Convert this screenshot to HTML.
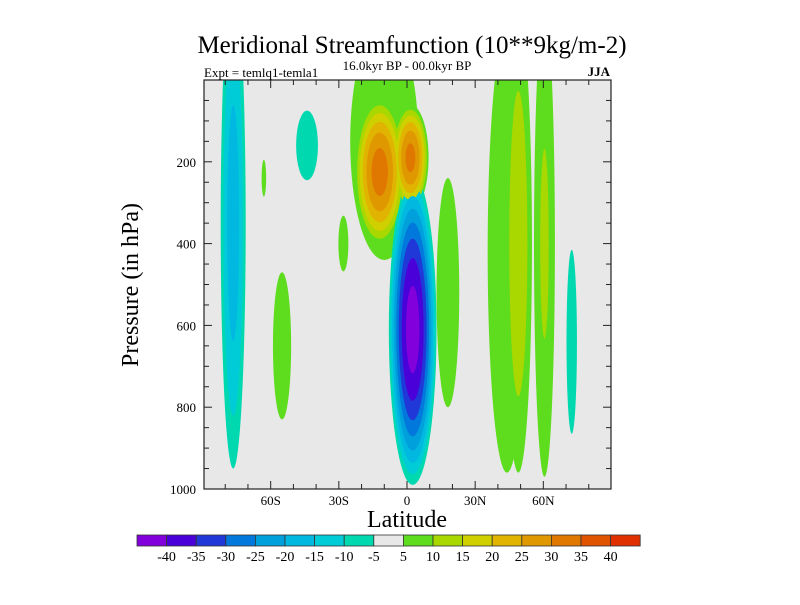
<!DOCTYPE html>
<html><head><meta charset="utf-8"><style>
body{margin:0;background:#fff;width:800px;height:600px;overflow:hidden}
svg text{font-family:"Liberation Serif",serif;fill:#000}
</style></head><body>
<svg width="800" height="600" viewBox="0 0 800 600" xmlns="http://www.w3.org/2000/svg">
<defs><clipPath id="pc"><rect x="204" y="80" width="407" height="409"/></clipPath></defs>
<text x="412" y="53" font-size="25" text-anchor="middle">Meridional Streamfunction (10**9kg/m-2)</text>
<text x="204" y="77" font-size="13">Expt = temlq1-temla1</text>
<text x="407" y="70" font-size="13" text-anchor="middle">16.0kyr BP - 00.0kyr BP</text>
<text x="610" y="76" font-size="13" text-anchor="end" font-weight="bold">JJA</text>
<rect x="204" y="80" width="407" height="409" fill="#e8e8e8"/>
<g id="contours" clip-path="url(#pc)"></g>
<rect x="204" y="80" width="407" height="409" fill="none" stroke="#222" stroke-width="1.2"/>
<g id="ticks"></g>
<text x="407" y="527" font-size="24" text-anchor="middle">Latitude</text>
<text transform="translate(138,285) rotate(-90)" font-size="24" text-anchor="middle">Pressure (in hPa)</text>
<g id="cbar"></g>
</svg>
<script>
// features: center lat, center pressure, lat half-width of |5| contour, pressure half-height of |5| contour, peak value
const featLat  = [-76.5, -55, -44, -28, -63, -10, -12, 1.5, 2.5, 18, 44, 49, 60.5, 72.5];
const featP    = [350, 650, 160, 400, 240, 150, 225, 190, 610, 520, 420, 400, 400, 640];
const featDLat = [5.5, 4, 4.8, 2.2, 1, 15, 11, 8, 10.5, 5, 8.5, 6, 4.6, 2.3];
const featDP   = [600, 180, 85, 68, 45, 290, 180, 130, 380, 280, 540, 560, 570, 225];
const featPeak = [-18, 8, -7, 7, 6, 9, 33, 32, -43, 9, 9, 14, 11, -7];
const levels = [-40,-35,-30,-25,-20,-15,-10,-5,5,10,15,20,25,30,35,40];
const cbLabels = ["-40","-35","-30","-25","-20","-15","-10","-5","5","10","15","20","25","30","35","40"];
const colors = ["#8200dc","#4a00d8","#2038d8","#0078dc","#00a0dc","#00b8e0","#00ccd8","#00d8b0","#e8e8e8","#5edc1e","#a8d800","#d0d000","#e0b400","#e09800","#e07800","#e05400","#e03000"];
const xTickLat = [-60,-30,0,30,60];
const xTickLab = ["60S","30S","0","30N","60N"];
const yTickP = [200,400,600,800,1000];
const yTickLab = ["200","400","600","800","1000"];

const X = lat => 407 + lat*2.272;
const Y = p => 80 + p*0.409;
const NS = "http://www.w3.org/2000/svg";
function colorFor(L){
  const i = levels.indexOf(L);
  return L>0 ? colors[i+1] : colors[i];
}
const g = document.getElementById('contours');
const items = [];
for (let f=0; f<featLat.length; f++){
  const pk = featPeak[f], s = Math.sign(pk);
  for (let L=5; L<Math.abs(pk); L+=5){
    const sc = Math.sqrt((1-L/Math.abs(pk))/(1-5/Math.abs(pk)));
    items.push({f, L, lev:s*L, sc});
  }
}
items.sort((a,b)=>a.L-b.L);
for (const it of items){
  const e = document.createElementNS(NS,'ellipse');
  
  
  const f = it.f;
  e.setAttribute('cx', X(featLat[f]));
  e.setAttribute('cy', Y(featP[f]));
  e.setAttribute('rx', Math.abs(X(featLat[f]+featDLat[f]*it.sc)-X(featLat[f])));
  e.setAttribute('ry', Math.abs(Y(featP[f]+featDP[f]*it.sc)-Y(featP[f])));
  e.setAttribute('fill', colorFor(it.lev));
  g.appendChild(e);
}
const t = document.getElementById('ticks');
function line(x1,y1,x2,y2){const l=document.createElementNS(NS,'line');
  
  
  l.setAttribute('x1',x1);l.setAttribute('y1',y1);l.setAttribute('x2',x2);l.setAttribute('y2',y2);
  l.setAttribute('stroke','#222');l.setAttribute('stroke-width','1');t.appendChild(l);}
function txt(x,y,s,anchor,size,par){const e=document.createElementNS(NS,'text');
  
  
  e.setAttribute('x',x);e.setAttribute('y',y);e.setAttribute('text-anchor',anchor);e.setAttribute('font-size',size);e.textContent=s;par.appendChild(e);}
for(let lat=-80;lat<=80;lat+=10){const maj=lat%30===0,len=maj?8:5;
  line(X(lat),489,X(lat),489-len);line(X(lat),80,X(lat),80+len);}
for(let p=50;p<1000;p+=50){const maj=p%200===0,len=maj?8:5;
  line(204,Y(p),204+len,Y(p));line(611,Y(p),611-len,Y(p));}
xTickLat.forEach((lat,i)=>txt(X(lat),505,xTickLab[i],'middle',13,t));
yTickP.forEach((p,i)=>txt(196,Y(p)+5,yTickLab[i],'end',13,t));
const cb=document.getElementById('cbar');
const bw=29.6;
colors.forEach((c,i)=>{const r=document.createElementNS(NS,'rect');
  
  
  r.setAttribute('x',137+i*bw);r.setAttribute('y',535);r.setAttribute('width',bw);r.setAttribute('height',11);
  r.setAttribute('fill',c);r.setAttribute('stroke','#333');r.setAttribute('stroke-width','0.8');cb.appendChild(r);});
cbLabels.forEach((s,i)=>txt(137+(i+1)*bw,561,s,'middle',14,cb));
</script>
</body></html>
